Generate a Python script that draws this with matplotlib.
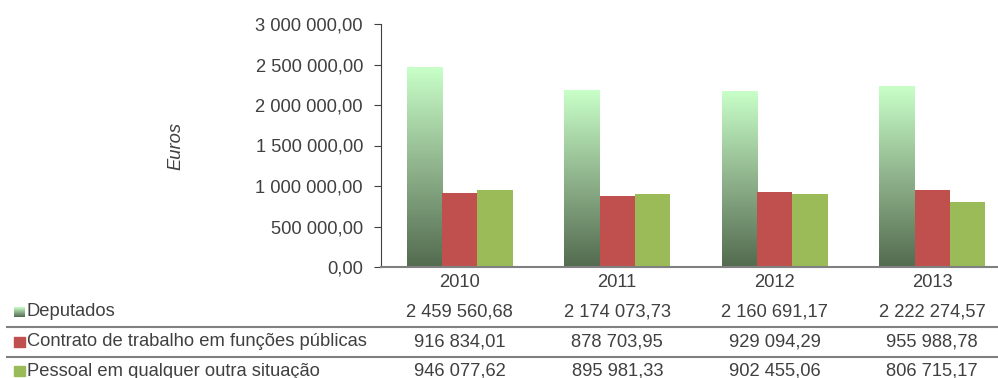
import numpy as np
import matplotlib.pyplot as plt
from matplotlib.colors import LinearSegmentedColormap
from matplotlib.patches import Rectangle
import matplotlib.transforms as mtransforms

plt.rcParams['font.family'] = ['Liberation Sans', 'DejaVu Sans']

years = ['2010', '2011', '2012', '2013']
series = ['Deputados', 'Contrato de trabalho em funções públicas',
          'Pessoal em qualquer outra situação']
deputados = [2459560.68, 2174073.73, 2160691.17, 2222274.57]
contrato = [916834.01, 878703.95, 929094.29, 955988.78]
pessoal = [946077.62, 895981.33, 902455.06, 806715.17]
yticks = [0, 500000, 1000000, 1500000, 2000000, 2500000, 3000000]

txt = '#404040'
fs = 13.2
W, H = 998, 378
fig = plt.figure(figsize=(W / 100, H / 100), dpi=100)
ax = fig.add_axes([381 / W, 1 - 267 / H, 630 / W, (267 - 24) / H])

grad_cmap = LinearSegmentedColormap.from_list('dep', ['#536b4f', '#8fb38c', '#c8ffc8'])
red = '#c0504d'
green = '#9bbb59'

bw = 0.225
x = np.arange(len(years))
grad = np.linspace(0, 1, 256).reshape(-1, 1)
for i, v in enumerate(deputados):
    x0 = x[i] - 1.5 * bw
    ax.imshow(grad, extent=[x0, x0 + bw, 0, v], origin='lower', aspect='auto',
              cmap=grad_cmap, zorder=2)
ax.bar(x, contrato, bw, color=red, zorder=2)
ax.bar(x + bw, pessoal, bw, color=green, zorder=2)

fmt = lambda v: f'{v:,.2f}'.replace(',', ' ').replace('.', ',')
ax.set_xlim(-0.5, len(years) - 0.5)
ax.set_ylim(0, 3000000)
ax.set_yticks(yticks)
ax.set_yticklabels([fmt(v) for v in yticks], fontsize=fs, color=txt)
ax.set_xticks(x)
ax.set_xticklabels(years, fontsize=fs, color=txt)
ax.tick_params(axis='x', length=0, pad=5)
ax.tick_params(axis='y', length=5, color='#404040', pad=8)
for s in ['top', 'right']:
    ax.spines[s].set_visible(False)
ax.spines['left'].set_color('#404040')
ax.spines['bottom'].set_color('#808080')
ax.spines['bottom'].set_linewidth(1.5)
ax.set_ylabel('Euros', fontsize=fs, style='italic', color=txt, labelpad=0)
ax.yaxis.set_label_coords((184 - 381) / 630, 0.5)

# data table below the chart
trans = mtransforms.blended_transform_factory(ax.transData, fig.transFigure)
rows = [deputados, contrato, pessoal]
row_y = [312, 342, 371]
for r, (name, vals, yy) in enumerate(zip(series, rows, row_y)):
    fy = 1 - yy / H
    fig.text(27 / W, fy, name, fontsize=fs, color=txt, va='center', ha='left')
    for i, v in enumerate(vals):
        ax.text(x[i], fy, fmt(v), transform=trans, fontsize=fs, color=txt,
                ha='center', va='center', clip_on=False)
    if r == 0:
        kax = fig.add_axes([14 / W, 1 - (yy + 5) / H, 11 / W, 10 / H])
        kax.imshow(grad, origin='lower', aspect='auto', cmap=grad_cmap, extent=[0, 1, 0, 1])
        kax.axis('off')
    else:
        fig.patches.append(Rectangle((14 / W, 1 - (yy + 5) / H), 11 / W, 10 / H,
                                     transform=fig.transFigure,
                                     color=[red, green][r - 1]))
for yy in [327, 357]:
    fig.add_artist(plt.Line2D([7 / W, 1], [1 - yy / H] * 2, color='#808080', lw=1.5))

fig.savefig('out.png', dpi=100)
